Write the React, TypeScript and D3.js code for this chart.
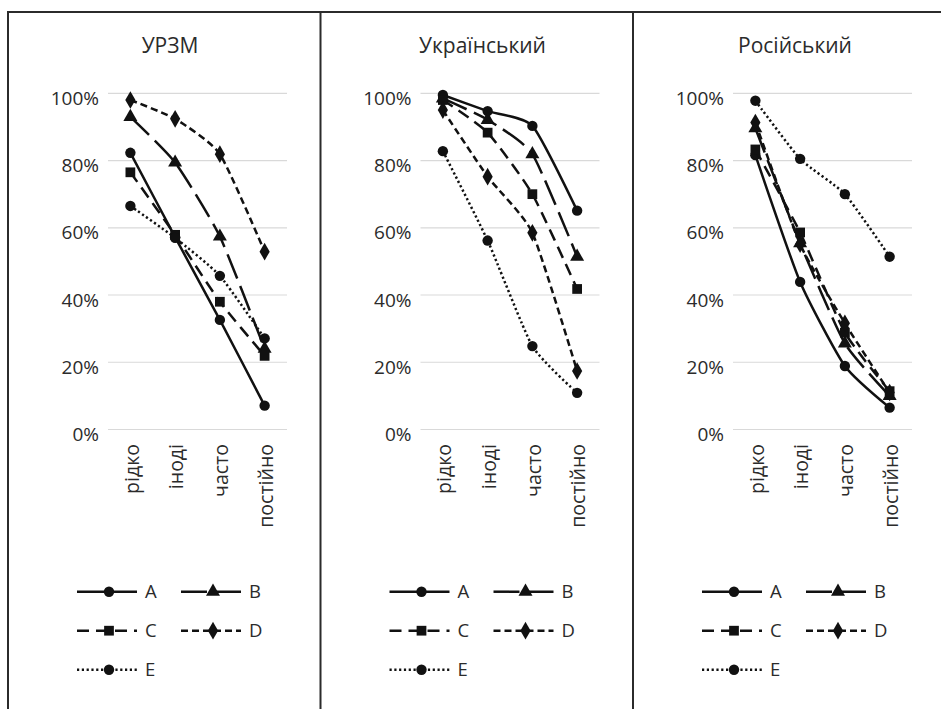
import React from 'react';
import * as d3 from 'd3';

const categories = ['рідко', 'іноді', 'часто', 'постійно'];
const seriesNames = ['A', 'B', 'C', 'D', 'E'];
const panelTitles = ['УРЗМ', 'Український', 'Російський'];
const yTicks = [0, 20, 40, 60, 80, 100];

// values in %, one row per series A..E
const urzmValues = [
  [82.3, 57.2, 32.6, 7.1],
  [93.0, 79.4, 57.4, 24.0],
  [76.5, 57.9, 38.0, 21.9],
  [98.0, 92.4, 81.9, 52.9],
  [66.5, 57.0, 45.7, 27.1],
];
const ukrValues = [
  [99.5, 94.7, 90.3, 65.1],
  [98.5, 92.1, 81.9, 51.4],
  [98.0, 88.3, 70.0, 41.8],
  [95.0, 75.2, 58.5, 17.4],
  [82.8, 56.2, 24.8, 10.9],
];
const rusValues = [
  [81.6, 43.9, 18.9, 6.5],
  [89.6, 55.4, 25.6, 10.0],
  [83.3, 58.6, 28.8, 11.4],
  [91.3, 55.1, 31.6, 11.0],
  [97.8, 80.5, 70.0, 51.4],
];
const panelValues = [urzmValues, ukrValues, rusValues];

const W = 941;
const H = 709;
const FONT = '"Open Sans", "Noto Sans", sans-serif';
const INK = '#2b2b2b';
const panelLefts = [8, 320.5, 633];

const dashes = ['', '26,8', '12,7', '7,4', '2.2,2.6'];
const symbols = [d3.symbolCircle, d3.symbolTriangle, d3.symbolSquare, d3.symbolDiamond, d3.symbolCircle];
const symbolSizes = [85, 85, 95, 90, 85];

const y = d3.scaleLinear().domain([0, 100]).range([429.5, 93.3]);

const Marker = ({ i, x, yy }: { i: number; x: number; yy: number }) => (
  <path
    d={d3.symbol().type(symbols[i]).size(symbolSizes[i])() as string}
    transform={`translate(${x},${yy})`}
    fill="#111"
  />
);

const Panel = ({ p }: { p: number }) => {
  const left = panelLefts[p];
  const x = d3.scaleBand().domain(categories).range([left + 100, left + 279]);
  const cx = (c: string) => (x(c) as number) + x.bandwidth() / 2;
  // mild smoothing, like the spreadsheet's "smoothed line"
  const line = d3
    .line<number>()
    .x((_, j) => cx(categories[j]))
    .y((v) => y(v))
    .curve(d3.curveCardinal.tension(0.45));
  const legendCols = [69, 173];

  return (
    <g>
      <text x={left + 162} y={53} textAnchor="middle" fontSize={21} fill={INK}>
        {panelTitles[p]}
      </text>
      {yTicks.map((t) => (
        <g key={t}>
          <line x1={left + 100} x2={left + 279} y1={y(t)} y2={y(t)} stroke="#d9d9d9" strokeWidth={1.2} />
          <text x={left + 91} y={y(t) + 5} dy="0.35em" textAnchor="end" fontSize={19} fill={INK}>
            {t}%
          </text>
        </g>
      ))}
      {categories.map((c) => (
        <text
          key={c}
          transform={`translate(${cx(c)},444) rotate(-90)`}
          dy="0.42em"
          textAnchor="end"
          fontSize={19.5}
          fill={INK}
        >
          {c}
        </text>
      ))}
      {panelValues[p].map((vals, i) => (
        <g key={i}>
          <path d={line(vals) as string} fill="none" stroke="#111" strokeWidth={2.5} strokeDasharray={dashes[i]} />
          {vals.map((v, j) => (
            <Marker key={j} i={i} x={cx(categories[j])} yy={y(v)} />
          ))}
        </g>
      ))}
      {seriesNames.map((s, i) => {
        const col = i % 2;
        const row = Math.floor(i / 2);
        const lx = left + legendCols[col];
        const ly = 591.7 + row * 39;
        return (
          <g key={s}>
            <line x1={lx} x2={lx + 60} y1={ly} y2={ly} stroke="#111" strokeWidth={2.5} strokeDasharray={dashes[i]} />
            <Marker i={i} x={lx + 32} yy={ly} />
            <text x={lx + 68} y={ly} dy="0.36em" fontSize={18.5} fill={INK}>
              {s}
            </text>
          </g>
        );
      })}
    </g>
  );
};

export default function App() {
  return (
    <svg
      width={W}
      height={H}
      style={{ position: 'absolute', left: 0, top: 0, background: '#fff' }}
      fontFamily={FONT}
    >
      <line x1={panelLefts[0]} x2={W} y1={12} y2={12} stroke={INK} strokeWidth={2} />
      {panelLefts.map((l) => (
        <line key={l} x1={l} x2={l} y1={11} y2={H} stroke={INK} strokeWidth={2} />
      ))}
      {panelTitles.map((_, p) => (
        <Panel key={p} p={p} />
      ))}
    </svg>
  );
}
